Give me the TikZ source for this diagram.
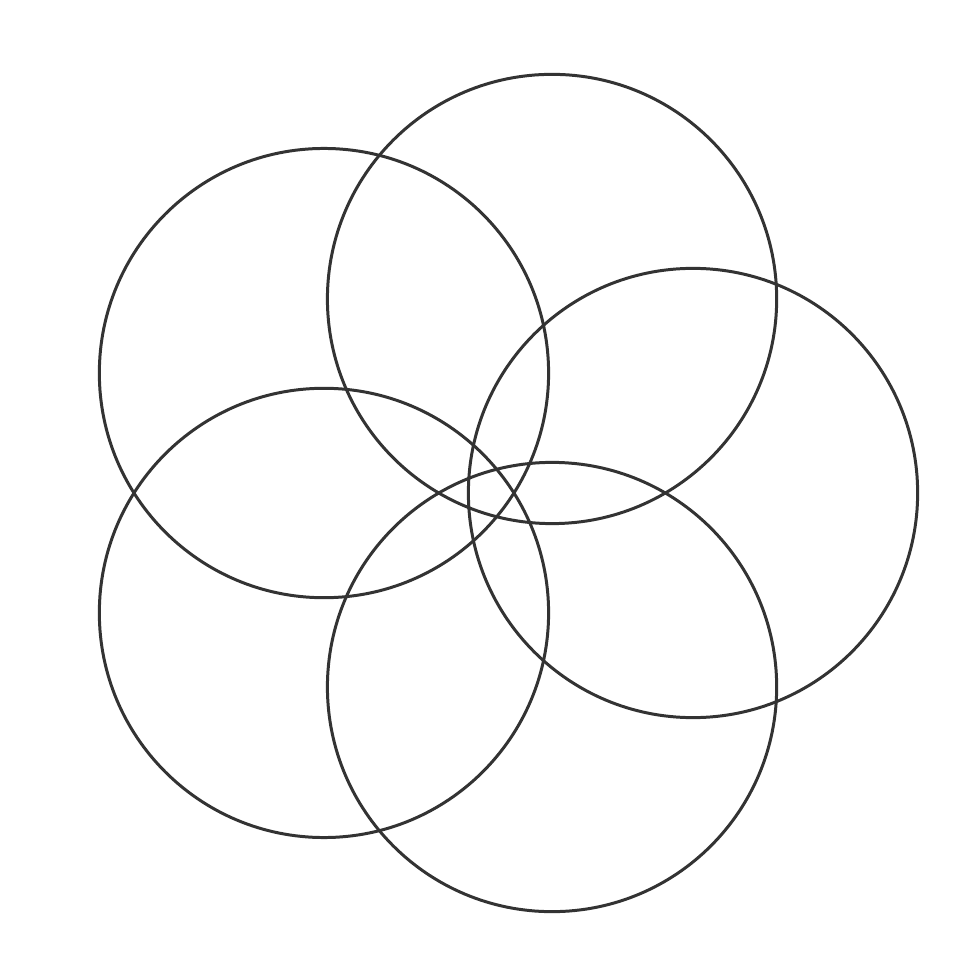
\documentclass[tikz,border=0pt]{standalone}
\begin{document}
\begin{tikzpicture}[x=0.01cm,y=-0.01cm,
  ring/.style={draw=black!80, line width=0.85pt}]
\useasboundingbox (0,0) rectangle (980,980);
\coordinate (o) at (489,493);
\foreach \a/\n in {0/r,72/t,144/ul,216/ll,288/b}{
  \path (o) ++(\a:204 and -204) coordinate (c\n);
  \node[ring, circle, minimum size=4.49cm, inner sep=0pt] (n\n) at (c\n) {};
}
\end{tikzpicture}
\end{document}
